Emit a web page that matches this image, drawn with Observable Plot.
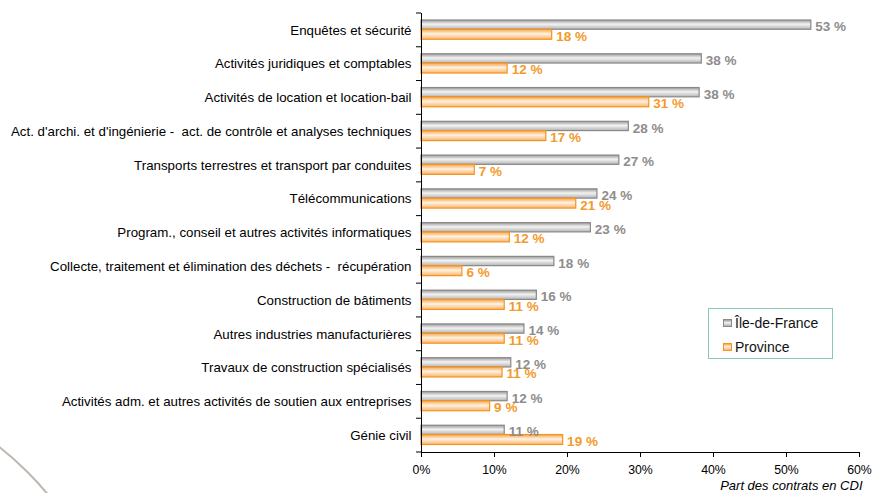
<!DOCTYPE html>
<html>
<head>
<meta charset="utf-8">
<script src="https://cdn.jsdelivr.net/npm/d3@7"></script>
<script src="https://cdn.jsdelivr.net/npm/@observablehq/plot@0.6"></script>
<style>
  html, body { margin: 0; padding: 0; background: #fff; overflow: hidden; }
  #wrap { position: relative; width: 873px; height: 493px; overflow: hidden; font-family: "Liberation Sans", Arial, sans-serif; }
  #deco { position: absolute; left: -523px; top: 377px; width: 646px; height: 646px; border-radius: 50%; border: 2px solid #bdb6b1; box-sizing: border-box; }
  #legend { position: absolute; left: 708px; top: 308px; width: 125px; height: 51px; border: 1px solid #86c9bb; box-sizing: border-box; background: #fff; font-size: 14px; color: #111; }
  .item { position: absolute; left: 14px; display: flex; align-items: center; }
  .sw { width: 9px; height: 8px; margin-right: 3px; box-sizing: border-box; }
  svg { white-space: pre; }
</style>
</head>
<body>
<div id="wrap">
  <div id="deco"></div>
  <div id="chart"></div>
  <div id="legend"></div>
</div>
<script>
const categories = [
  "Enquêtes et sécurité",
  "Activités juridiques et comptables",
  "Activités de location et location-bail",
  "Act. d'archi. et d'ingénierie -  act. de contrôle et analyses techniques",
  "Transports terrestres et transport par conduites",
  "Télécommunications",
  "Program., conseil et autres activités informatiques",
  "Collecte, traitement et élimination des déchets -  récupération",
  "Construction de bâtiments",
  "Autres industries manufacturières",
  "Travaux de construction spécialisés",
  "Activités adm. et autres activités de soutien aux entreprises",
  "Génie civil"
];
const ileDeFrance = [53.4, 38.4, 38.1, 28.4, 27.1, 24.1, 23.2, 18.2, 15.8, 14.1, 12.3, 11.8, 11.4];
const province    = [17.9, 11.8, 31.2, 17.1, 7.3, 21.2, 12.1, 5.6, 11.4, 11.4, 11.1, 9.4, 19.4];
const seriesNames = ["Île-de-France", "Province"];
const xTicks = [0, 10, 20, 30, 40, 50, 60];
const xLabel = "Part des contrats en CDI";

const data = categories.map((c, i) => ({cat: c, idf: ileDeFrance[i], prov: province[i]}));
const fmt = v => Math.round(v) + " %";

const chart = Plot.plot({
  width: 873,
  height: 493,
  marginTop: 13,
  marginBottom: 41,
  marginLeft: 421,
  marginRight: 14,
  style: {fontFamily: "'Liberation Sans', Arial, sans-serif", background: "transparent", overflow: "visible"},
  x: {domain: [0, 60]},
  y: {domain: categories, padding: 0, round: false},
  marks: [
    Plot.barX(data, {y: "cat", x: "idf", fill: "url(#gGrey)", stroke: "#8a8888", strokeWidth: 1.2, insetTop: 7, insetBottom: 17.5}),
    Plot.barX(data, {y: "cat", x: "prov", fill: "url(#gOrange)", stroke: "#f7941d", strokeWidth: 1.2, insetTop: 16.3, insetBottom: 7.5}),
    Plot.text(data, {y: "cat", x: "idf", text: d => fmt(d.idf), textAnchor: "start", dx: 4, dy: -3.5, fill: "#8f8c8c", fontWeight: "bold", fontSize: 13.5}),
    Plot.text(data, {y: "cat", x: "prov", text: d => fmt(d.prov), textAnchor: "start", dx: 4, dy: 6, fill: "#f39a2c", fontWeight: "bold", fontSize: 13.5}),
    Plot.ruleX([0], {stroke: "#000", strokeWidth: 1}),
    Plot.frame({anchor: "bottom", stroke: "#000"}),
    Plot.axisY({tickSize: 0, tickPadding: 10, fontSize: 13.3, fill: "#000", label: null}),
    Plot.axisX({ticks: xTicks, tickFormat: d => d + "%", tickSize: 5, tickPadding: 8, fontSize: 12.3, fill: "#000", stroke: "#000", label: null}),
    Plot.text([xLabel], {frameAnchor: "bottom-right", dx: 3, dy: 37.5, fontStyle: "italic", fontSize: 13, fill: "#000", textAnchor: "end"})
  ]
});

const svg = d3.select(chart);
const defs = svg.insert("defs", ":first-child");
const g1 = defs.append("linearGradient").attr("id", "gGrey").attr("x1", 0).attr("y1", 0).attr("x2", 0).attr("y2", 1);
g1.append("stop").attr("offset", "0%").attr("stop-color", "#9c9a9a");
g1.append("stop").attr("offset", "45%").attr("stop-color", "#f3f3f3");
g1.append("stop").attr("offset", "100%").attr("stop-color", "#b5b3b3");
const g2 = defs.append("linearGradient").attr("id", "gOrange").attr("x1", 0).attr("y1", 0).attr("x2", 0).attr("y2", 1);
g2.append("stop").attr("offset", "0%").attr("stop-color", "#f8a447");
g2.append("stop").attr("offset", "45%").attr("stop-color", "#fff2e4");
g2.append("stop").attr("offset", "100%").attr("stop-color", "#f9b46a");

// boundary ticks on the category axis, from the plot's own scales
const ys = chart.scale("y"), xs = chart.scale("x");
const x0 = xs.apply(0);
const bounds = categories.map(c => ys.apply(c)).concat([ys.apply(categories[categories.length - 1]) + ys.bandwidth]);
svg.append("g").selectAll("line").data(bounds).join("line")
  .attr("x1", x0 - 5).attr("x2", x0).attr("y1", d => d).attr("y2", d => d)
  .attr("stroke", "#000");

document.getElementById("chart").appendChild(chart);

const legend = document.getElementById("legend");
const swatches = [
  {bg: "linear-gradient(#9c9a9a, #f3f3f3 45%, #b5b3b3)", border: "#8a8888"},
  {bg: "linear-gradient(#f8a447, #fff2e4 45%, #f9b46a)", border: "#f7941d"}
];
seriesNames.forEach((name, i) => {
  const item = document.createElement("div");
  item.className = "item";
  item.style.top = (i === 0 ? 6 : 30) + "px";
  item.innerHTML = `<div class="sw" style="background:${swatches[i].bg};border:1.5px solid ${swatches[i].border}"></div><span>${name}</span>`;
  legend.appendChild(item);
});
</script>
</body>
</html>
